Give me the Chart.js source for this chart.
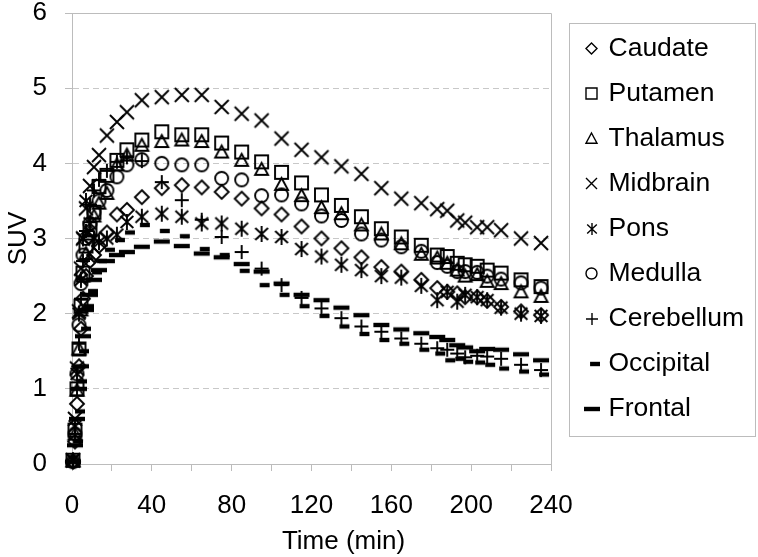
<!DOCTYPE html>
<html>
<head>
<meta charset="utf-8">
<title>SUV time-activity curves</title>
<script src="https://cdn.jsdelivr.net/npm/chart.js@4.4.1/dist/chart.umd.min.js"></script>
<style>
  html, body { margin: 0; padding: 0; background: #fff; }
  canvas { display: block; }
</style>
</head>
<body>
<canvas id="chart" width="758" height="557"></canvas>
<script>
// frame mid-times (min)
const times = [0.5, 1.5, 2.5, 3.5, 4.5, 5.5, 7, 9, 11, 13.5, 17.5, 22.5, 27.5, 35,
  45, 55, 65, 75, 85, 95, 105, 115, 125, 135, 145, 155, 165, 175,
  183, 188, 193, 197, 203, 208, 215, 225, 235]

const caudate = [0.03, 0.3, 0.8, 1.3, 1.8, 2.2, 2.5, 2.7, 2.78, 2.9, 3.08, 3.32, 3.38, 3.55,
  3.67, 3.71, 3.68, 3.62, 3.53, 3.40, 3.32, 3.16, 3.00, 2.87, 2.75, 2.62, 2.56, 2.45,
  2.34, 2.29, 2.27, 2.22, 2.22, 2.17, 2.09, 2.03, 1.98]
const putamen = [0.05, 0.45, 1.0, 1.53, 2.1, 2.54, 2.9, 3.13, 3.35, 3.69, 3.84, 4.04, 4.18, 4.31,
  4.42, 4.38, 4.38, 4.27, 4.15, 4.02, 3.88, 3.74, 3.58, 3.44, 3.29, 3.13, 3.02, 2.91,
  2.78, 2.76, 2.67, 2.65, 2.63, 2.58, 2.54, 2.45, 2.36]
const thalamus = [0.04, 0.4, 0.98, 1.53, 2.05, 2.5, 2.8, 3.1, 3.3, 3.47, 3.6, 3.98, 4.11, 4.24,
  4.29, 4.31, 4.29, 4.15, 4.04, 3.92, 3.72, 3.57, 3.41, 3.33, 3.18, 3.06, 2.93, 2.79,
  2.74, 2.67, 2.58, 2.50, 2.52, 2.43, 2.40, 2.29, 2.23]
const midbrain = [0.05, 0.6, 1.27, 2.03, 2.6, 3.0, 3.4, 3.7, 3.95, 4.11, 4.37, 4.55, 4.68, 4.84,
  4.88, 4.91, 4.91, 4.75, 4.66, 4.57, 4.33, 4.18, 4.08, 3.96, 3.86, 3.67, 3.53, 3.47,
  3.39, 3.37, 3.24, 3.21, 3.15, 3.15, 3.11, 3.00, 2.94]
const pons = [0.05, 0.5, 1.2, 2.0, 2.45, 3.0, 3.5, 3.2, 3.0, 2.95, 3.0, 3.05, 3.22, 3.29,
  3.33, 3.29, 3.20, 3.20, 3.13, 3.06, 3.02, 2.86, 2.76, 2.65, 2.58, 2.50, 2.48, 2.37,
  2.18, 2.29, 2.16, 2.25, 2.22, 2.18, 2.08, 2.00, 1.97]
const medulla = [0.03, 0.4, 1.2, 1.85, 2.4, 2.78, 3.0, 3.2, 3.35, 3.5, 3.64, 3.82, 3.98, 4.05,
  4.00, 3.98, 3.98, 3.80, 3.78, 3.57, 3.58, 3.46, 3.30, 3.24, 3.06, 2.98, 2.89, 2.83,
  2.68, 2.63, 2.56, 2.56, 2.55, 2.50, 2.46, 2.41, 2.34]
const cerebellum = [0.03, 0.4, 1.0, 1.6, 2.2, 2.7, 3.1, 3.45, 3.64, 3.78, 3.9, 4.02, 4.08, 4.03,
  3.75, 3.51, 3.25, 3.02, 2.82, 2.60, 2.38, 2.21, 2.07, 1.94, 1.83, 1.76, 1.67, 1.60,
  1.54, 1.52, 1.47, 1.42, 1.44, 1.43, 1.40, 1.32, 1.25]
const occipital = [0.03, 0.3, 0.7, 1.1, 1.5, 1.8, 2.1, 2.3, 2.55, 2.7, 2.85, 2.98, 3.08, 3.18,
  3.10, 3.03, 2.86, 2.78, 2.57, 2.38, 2.25, 2.10, 1.97, 1.83, 1.73, 1.65, 1.60, 1.52,
  1.47, 1.38, 1.40, 1.36, 1.35, 1.32, 1.27, 1.23, 1.19]
const frontal = [0.03, 0.25, 0.6, 1.0, 1.3, 1.7, 2.05, 2.25, 2.45, 2.58, 2.70, 2.78, 2.82, 2.89,
  2.96, 2.90, 2.80, 2.75, 2.66, 2.56, 2.40, 2.25, 2.18, 2.08, 1.98, 1.85, 1.79, 1.74,
  1.69, 1.65, 1.58, 1.55, 1.50, 1.53, 1.52, 1.46, 1.38]

const regions = ['Caudate', 'Putamen', 'Thalamus', 'Midbrain', 'Pons', 'Medulla', 'Cerebellum', 'Occipital', 'Frontal']
const series = [caudate, putamen, thalamus, midbrain, pons, medulla, cerebellum, occipital, frontal]
const shapes = ['diamond', 'square', 'triangle', 'x', 'star', 'circle', 'plus', 'dashShort', 'dashLong']

const xTickLabels = [0, 40, 80, 120, 160, 200, 240]
const yTickLabels = [0, 1, 2, 3, 4, 5, 6]

const FONT = "'Liberation Sans', Arial, sans-serif"
const GREY = '#bcbcbc'

// marker sizes in the plot and in the legend
const plotSize = { diamond: 14, square: 13, triangle: 13, x: 14, star: 16, circle: 13, plus: 14, dashShort: 16, dashLong: 16 }
const legendSize = { diamond: 11, square: 11, triangle: 11, x: 11, star: 12, circle: 11, plus: 12, dashShort: 16, dashLong: 16 }

// draw an Excel-like marker onto a small canvas
function makeMarker (kind, s, lw) {
  const c = document.createElement('canvas')
  const size = Math.ceil(s) + 6
  c.width = size
  c.height = size
  const g = c.getContext('2d')
  const m = size / 2
  const h = s / 2
  g.strokeStyle = '#000'
  g.fillStyle = '#000'
  g.lineWidth = lw
  g.beginPath()
  switch (kind) {
    case 'diamond':
      g.moveTo(m, m - h); g.lineTo(m + h, m); g.lineTo(m, m + h); g.lineTo(m - h, m); g.closePath()
      break
    case 'square':
      g.rect(m - h, m - h, s, s)
      break
    case 'triangle':
      g.moveTo(m, m - h); g.lineTo(m + h, m + h * 0.85); g.lineTo(m - h, m + h * 0.85); g.closePath()
      break
    case 'x':
      g.moveTo(m - h, m - h); g.lineTo(m + h, m + h); g.moveTo(m + h, m - h); g.lineTo(m - h, m + h)
      break
    case 'star':
      g.moveTo(m, m - h); g.lineTo(m, m + h)
      g.moveTo(m - h * 0.8, m - h * 0.75); g.lineTo(m + h * 0.8, m + h * 0.75)
      g.moveTo(m + h * 0.8, m - h * 0.75); g.lineTo(m - h * 0.8, m + h * 0.75)
      break
    case 'circle':
      g.arc(m, m, h, 0, Math.PI * 2)
      break
    case 'plus':
      g.moveTo(m - h, m); g.lineTo(m + h, m); g.moveTo(m, m - h); g.lineTo(m, m + h)
      break
    case 'dashShort':
      g.fillRect(m + h - s * 0.62, m - 2.2, s * 0.62, 4.4)
      return c
    case 'dashLong':
      g.fillRect(m - h, m - 2.2, s, 4.4)
      return c
  }
  g.stroke()
  return c
}

const plotMarkers = shapes.map(k => makeMarker(k, plotSize[k], 1.9))
const legendMarkers = shapes.map(k => makeMarker(k, legendSize[k], 1.4))

const datasets = series.map((vals, i) => ({
  label: regions[i],
  data: times.map((t, j) => ({ x: t, y: vals[j] })),
  showLine: false,
  pointStyle: plotMarkers[i],
  pointRadius: 7,
  borderColor: '#000',
  backgroundColor: '#000',
  clip: false
}))

// solid frame on top and right of the plot area
const plotFrame = {
  id: 'plotFrame',
  beforeDatasetsDraw (chart) {
    const { ctx, chartArea: a } = chart
    ctx.save()
    ctx.strokeStyle = GREY
    ctx.lineWidth = 1
    ctx.beginPath()
    ctx.moveTo(a.left, Math.round(a.top) + 0.5)
    ctx.lineTo(Math.round(a.right) + 0.5, Math.round(a.top) + 0.5)
    ctx.lineTo(Math.round(a.right) + 0.5, a.bottom)
    ctx.stroke()
    ctx.restore()
  }
}

// x axis title, placed a little right of centre like the original
const xTitle = {
  id: 'xTitle',
  afterDraw (chart) {
    const { ctx, chartArea: a } = chart
    ctx.save()
    ctx.font = '26px ' + FONT
    ctx.fillStyle = '#000'
    ctx.textAlign = 'center'
    ctx.textBaseline = 'middle'
    ctx.fillText('Time (min)', (a.left + a.right) / 2 + 32, a.bottom + 78)
    ctx.restore()
  }
}

// boxed legend on the right
const boxLegend = {
  id: 'boxLegend',
  afterDraw (chart) {
    const { ctx, chartArea: a } = chart
    const left = Math.round(a.right) + 18.5
    const top = Math.round(a.top) + 10.5
    ctx.save()
    ctx.strokeStyle = GREY
    ctx.lineWidth = 1
    ctx.strokeRect(left, top, 186, 413)
    ctx.font = '26.5px ' + FONT
    ctx.fillStyle = '#000'
    ctx.textAlign = 'left'
    ctx.textBaseline = 'middle'
    regions.forEach((name, i) => {
      const cy = top + 25 + 45 * i
      const mk = legendMarkers[i]
      ctx.drawImage(mk, Math.round(left + 22 - mk.width / 2), Math.round(cy - mk.height / 2))
      ctx.fillText(name, left + 39, cy)
    })
    ctx.restore()
  }
}

const ctx = document.getElementById('chart').getContext('2d')
// eslint-disable-next-line
new Chart(ctx, {
  type: 'scatter',
  data: { datasets },
  plugins: [plotFrame, xTitle, boxLegend],
  options: {
    responsive: false,
    animation: false,
    devicePixelRatio: 1,
    layout: { padding: { left: 0, top: 13, right: 207, bottom: 0 } },
    plugins: {
      legend: { display: false },
      tooltip: { enabled: false }
    },
    scales: {
      x: {
        type: 'linear',
        min: 0,
        max: 240,
        afterFit (scale) { scale.height = 93 },
        ticks: {
          stepSize: 20,
          autoSkip: false,
          maxRotation: 0,
          padding: 19,
          color: '#000',
          font: { family: FONT, size: 26, lineHeight: 1.2 },
          callback: v => (xTickLabels.includes(v) ? String(v) : '')
        },
        grid: {
          drawOnChartArea: false,
          drawTicks: true,
          tickLength: 7,
          tickColor: GREY,
          color: GREY
        },
        border: { display: true, color: GREY, width: 1 }
      },
      y: {
        min: 0,
        max: 6,
        afterFit (scale) {
          scale.width = 72
          scale.paddingTop = 0
          scale.paddingBottom = 0
        },
        ticks: {
          stepSize: 1,
          padding: 18,
          color: '#000',
          font: { family: FONT, size: 26, lineHeight: 1 },
          callback: v => (yTickLabels.includes(v) ? String(v) : '')
        },
        grid: {
          color: ctx => (ctx.tick && ctx.tick.value > 0 && ctx.tick.value < 6 ? '#c8c8c8' : 'rgba(0,0,0,0)'),
          tickColor: GREY,
          tickLength: 7,
          tickBorderDash: [],
          lineWidth: 1
        },
        border: { display: true, color: GREY, width: 1, dash: [6, 4] },
        title: {
          display: true,
          text: 'SUV',
          color: '#000',
          font: { family: FONT, size: 26, lineHeight: 1.2 },
          padding: { top: 3, bottom: 0 }
        }
      }
    }
  }
})
</script>
</body>
</html>
